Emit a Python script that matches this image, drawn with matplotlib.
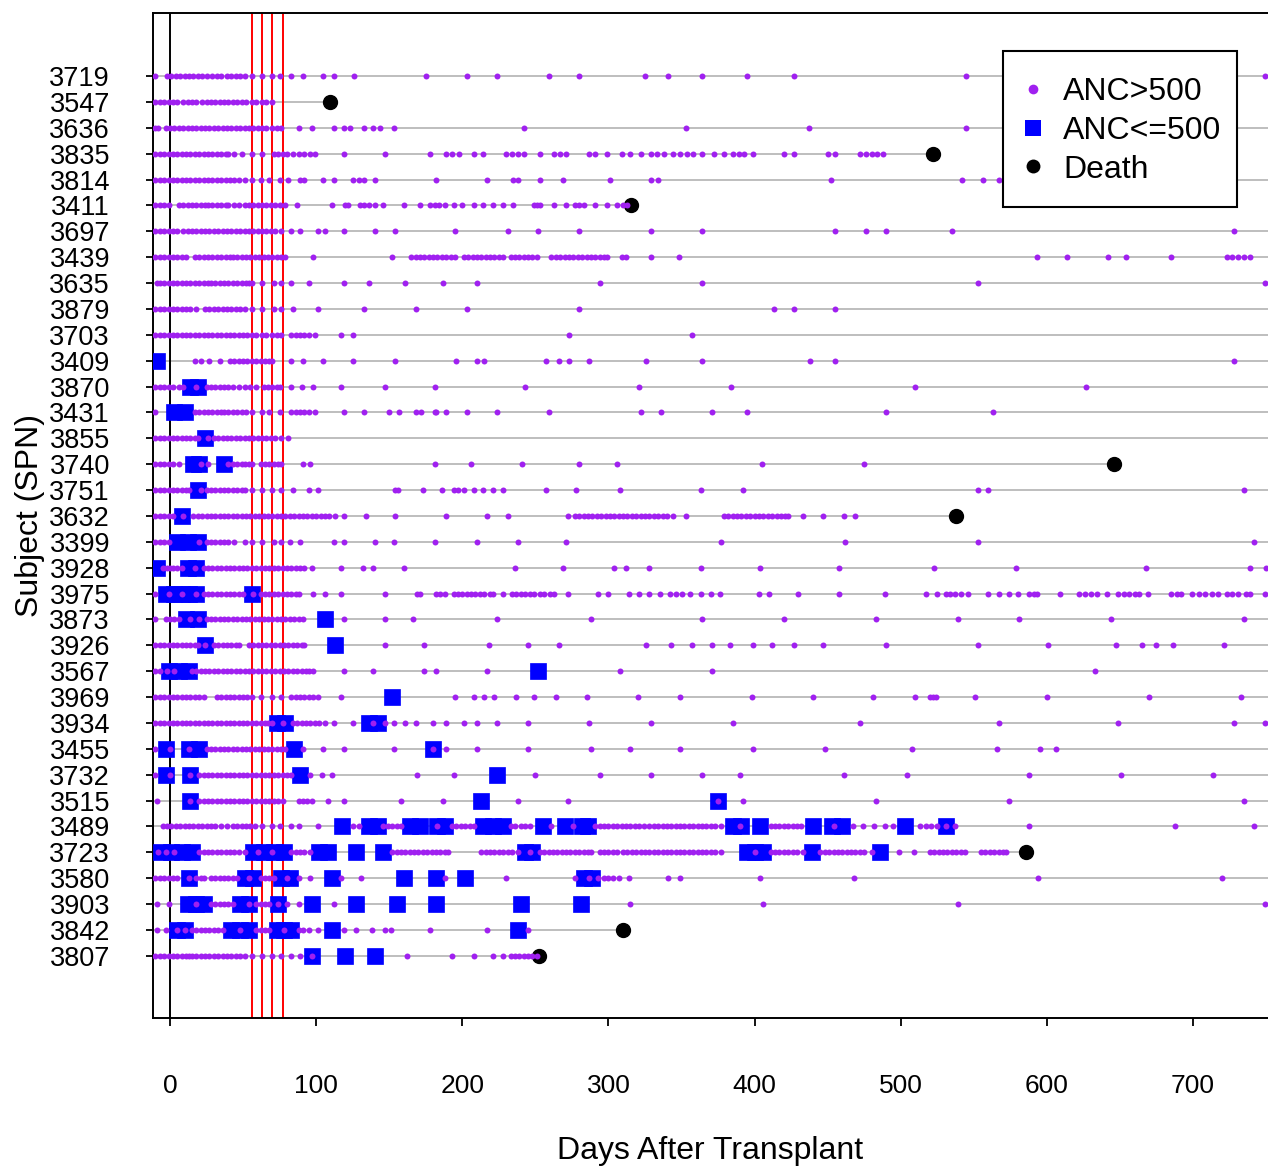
import matplotlib
matplotlib.use("Agg")
import matplotlib.pyplot as plt
from matplotlib.lines import Line2D
from matplotlib.patches import Rectangle

plt.rcParams['font.family'] = ['Liberation Sans', 'DejaVu Sans']

subjects = ["3719", "3547", "3636", "3835", "3814", "3411", "3697", "3439", "3635",
            "3879", "3703", "3409", "3870", "3431", "3855", "3740", "3751", "3632",
            "3399", "3928", "3975", "3873", "3926", "3567", "3969", "3934", "3455",
            "3732", "3515", "3489", "3723", "3580", "3903", "3842", "3807"]

death_day = [None, 109.5, None, 522, None, 315.7, None, None, None,
             None, None, None, None, None, None, 646, None, 537.5,
             None, None, None, None, None, None, None, None, None,
             None, None, None, 586, None, None, 310, 252.5]

red_days = [56, 63, 70, 77]
x_ticks = [0, 100, 200, 300, 400, 500, 600, 700]

# ANC>500 (purple) and ANC<=500 (blue) measurement days per subject
anc_hi_3719 = [-10, -2, 1, 4, 7, 10, 13, 16, 19, 22, 25, 29, 32, 35, 39, 42, 45, 48, 51,
               56, 63, 70, 75, 83, 91, 105, 112, 126, 175, 203, 224, 259, 280, 325, 341,
               364, 395, 427, 545, 749]
anc_lo_3719 = []
anc_hi_3547 = [-10, -7, -4, -1, 2, 5, 9, 12, 15, 18, 22, 25, 28, 31, 34, 37, 40, 43, 46,
               49, 52, 56, 59, 63, 66, 70]
anc_lo_3547 = []
anc_hi_3636 = [-10, -8, -3, 0, 3, 6, 9, 12, 15, 18, 21, 24, 27, 30, 33, 36, 39, 42, 45, 48,
               51, 54, 57, 60, 63, 66, 70, 73, 76, 88, 97, 112, 119, 123, 133, 139, 144,
               153, 242, 353, 437, 545]
anc_lo_3636 = []
anc_hi_3835 = [-10, -7, -4, -1, 2, 5, 8, 11, 14, 17, 20, 23, 26, 29, 32, 35, 38, 40, 44,
               49, 56, 63, 71, 74, 77, 80, 84, 88, 92, 96, 99, 119, 147, 178, 189, 193,
               198, 208, 214, 230, 234, 238, 242, 253, 263, 267, 271, 287, 291, 299, 309,
               315, 322, 329, 333, 338, 344, 349, 354, 358, 364, 372, 379, 385, 389, 393,
               399, 420, 427, 450, 455, 472, 476, 480, 484, 488]
anc_lo_3835 = []
anc_hi_3814 = [-10, -7, -4, -1, 2, 5, 8, 11, 14, 17, 20, 23, 26, 29, 32, 35, 38, 41, 44,
               47, 51, 56, 62, 68, 75, 81, 89, 92, 105, 112, 125, 129, 133, 140, 182, 217,
               235, 238, 253, 269, 301, 329, 334, 452, 542, 556, 567]
anc_lo_3814 = []
anc_hi_3411 = [-10, -7, -4, -1, 6, 9, 12, 15, 18, 21, 24, 26, 29, 32, 35, 38, 40, 44, 47,
               51, 54, 57, 60, 63, 66, 69, 72, 75, 79, 87, 111, 120, 122, 130, 133, 136,
               140, 146, 160, 171, 178, 181, 184, 188, 194, 200, 208, 214, 221, 228, 235,
               249, 251, 253, 263, 271, 277, 280, 283, 291, 299, 306, 310, 313]
anc_lo_3411 = []
anc_hi_3697 = [-10, -7, -4, -1, 2, 5, 9, 12, 15, 18, 21, 24, 27, 30, 33, 36, 39, 42, 45,
               48, 51, 54, 57, 60, 63, 66, 69, 72, 76, 83, 89, 101, 106, 119, 140, 154,
               195, 231, 252, 280, 329, 364, 455, 476, 490, 535, 728]
anc_lo_3697 = []
anc_hi_3439 = [-10, -7, -4, -1, 2, 5, 8, 11, 17, 20, 23, 26, 29, 32, 35, 38, 41, 43, 46,
               49, 52, 55, 58, 61, 64, 67, 70, 73, 76, 79, 98, 152, 165, 168, 171, 174,
               177, 180, 183, 186, 189, 192, 195, 201, 204, 207, 210, 213, 216, 219, 222,
               225, 228, 233, 236, 239, 242, 245, 248, 251, 261, 264, 267, 270, 273, 276,
               279, 282, 285, 288, 291, 294, 297, 299, 309, 312, 329, 348, 593, 614, 642,
               654, 685, 723, 727, 731, 735, 739]
anc_lo_3439 = []
anc_hi_3635 = [-9, -7, -4, -1, 2, 5, 8, 11, 14, 17, 20, 23, 26, 28, 31, 34, 37, 40, 43,
               46, 49, 52, 54, 56, 63, 71, 76, 83, 95, 119, 136, 161, 187, 210, 294, 364,
               553, 749]
anc_lo_3635 = []
anc_hi_3879 = [-10, -7, -4, -1, 2, 5, 8, 11, 14, 18, 24, 27, 30, 33, 36, 39, 42, 45, 48,
               51, 56, 63, 71, 76, 84, 101, 133, 168, 203, 280, 413, 427, 455]
anc_lo_3879 = []
anc_hi_3703 = [-10, -7, -4, -1, 2, 5, 8, 11, 14, 17, 20, 23, 26, 29, 32, 35, 38, 41, 44,
               47, 50, 53, 56, 59, 63, 66, 70, 73, 76, 83, 86, 89, 92, 95, 99, 117, 125,
               273, 357]
anc_lo_3703 = []
anc_hi_3409 = [17, 21, 27, 34, 41, 44, 47, 50, 53, 56, 59, 62, 65, 68, 70, 83, 91, 105,
               125, 154, 196, 210, 215, 257, 266, 273, 287, 326, 364, 438, 455, 728]
anc_lo_3409 = [-9]
anc_hi_3870 = [-10, -7, -4, -1, 2, 6, 9, 18, 25, 28, 31, 34, 37, 40, 43, 47, 51, 55, 59,
               64, 67, 70, 73, 75, 83, 90, 98, 117, 147, 181, 243, 321, 384, 510, 627]
anc_lo_3870 = [14, 19]
anc_hi_3431 = [-10, 17, 20, 23, 26, 29, 32, 35, 37, 40, 43, 46, 49, 52, 56, 63, 68, 75,
               83, 86, 89, 92, 95, 99, 119, 133, 150, 157, 168, 172, 181, 182, 189, 203,
               224, 259, 322, 336, 371, 395, 490, 563]
anc_lo_3431 = [3, 10]
anc_hi_3855 = [-10, -7, -4, -1, 2, 5, 8, 11, 14, 17, 19, 26, 30, 33, 36, 39, 42, 45, 48,
               51, 54, 57, 60, 63, 66, 69, 72, 76, 81]
anc_lo_3855 = [24]
anc_hi_3740 = [-10, -7, -4, -1, 2, 6, 21, 26, 40, 43, 46, 49, 51, 54, 56, 62, 65, 68, 71,
               74, 76, 91, 96, 181, 206, 241, 280, 306, 405, 475]
anc_lo_3740 = [16, 20, 37]
anc_hi_3751 = [-10, -7, -4, -1, 2, 5, 8, 11, 13, 21, 25, 28, 31, 34, 37, 40, 43, 46, 49,
               51, 56, 63, 70, 76, 84, 95, 101, 154, 156, 173, 186, 194, 197, 201, 208,
               214, 221, 228, 257, 278, 308, 363, 392, 553, 560, 735]
anc_lo_3751 = [19]
anc_hi_3632 = [-10, -7, -4, -1, 2, 9, 16, 19, 22, 25, 28, 31, 34, 37, 40, 43, 46, 49, 52,
               55, 58, 61, 64, 67, 70, 73, 76, 79, 82, 85, 88, 91, 94, 97, 100, 103, 106,
               109, 113, 119, 134, 154, 189, 217, 231, 272, 277, 280, 283, 286, 289, 292,
               295, 298, 301, 304, 307, 310, 313, 316, 319, 322, 325, 328, 331, 334, 337,
               340, 344, 353, 379, 382, 385, 388, 391, 394, 397, 400, 403, 406, 409, 412,
               415, 418, 421, 423, 433, 447, 461, 469]
anc_lo_3632 = [8]
anc_hi_3399 = [-10, -7, -4, -1, 20, 25, 28, 31, 34, 37, 40, 44, 51, 56, 63, 71, 76, 82, 89,
               112, 119, 140, 153, 181, 210, 238, 271, 377, 462, 553, 742]
anc_lo_3399 = [5, 12, 19]
anc_hi_3928 = [-5, -2, 0, 2, 5, 8, 17, 23, 26, 29, 32, 35, 38, 41, 44, 47, 50, 53, 56, 59,
               62, 65, 68, 71, 74, 77, 80, 83, 86, 89, 92, 97, 117, 132, 139, 160, 236,
               269, 304, 312, 328, 363, 404, 458, 523, 579, 668, 739, 750]
anc_lo_3928 = [-9, 12, 18]
anc_hi_3975 = [-10, -1, 8, 18, 23, 26, 29, 32, 35, 38, 41, 44, 47, 50, 57, 62, 65, 68, 71,
               74, 77, 80, 83, 86, 88, 98, 106, 117, 147, 169, 171, 182, 185, 188, 194, 197,
               200, 203, 206, 209, 212, 215, 219, 221, 228, 234, 237, 240, 243, 246, 249,
               253, 256, 260, 263, 272, 293, 300, 314, 321, 328, 335, 342, 346, 350, 356,
               363, 370, 376, 403, 410, 430, 458, 489, 517, 525, 531, 534, 537, 541, 546,
               560, 567, 574, 580, 588, 591, 593, 609, 622, 626, 630, 634, 641, 649, 653,
               656, 660, 663, 669, 685, 689, 692, 699, 704, 708, 713, 717, 723, 727, 731,
               736, 739, 749]
anc_lo_3975 = [-3, 3, 8, 13, 18, 56]
anc_hi_3873 = [-10, -3, 0, 3, 6, 14, 20, 25, 28, 31, 34, 37, 40, 43, 46, 49, 52, 55, 58,
               61, 64, 67, 70, 73, 76, 79, 82, 85, 88, 91, 119, 147, 166, 224, 288, 364,
               420, 483, 539, 581, 644, 735]
anc_lo_3873 = [11, 19, 106]
anc_hi_3926 = [-10, -7, -4, -1, 2, 5, 8, 11, 14, 17, 19, 24, 30, 33, 36, 39, 42, 45, 47,
               54, 57, 60, 63, 66, 69, 72, 75, 78, 81, 84, 87, 90, 92, 147, 174, 218, 245,
               266, 326, 343, 357, 371, 383, 399, 412, 427, 447, 490, 553, 601, 647, 665,
               675, 686, 721]
anc_lo_3926 = [24, 113]
anc_hi_3567 = [-10, -7, -2, 3, 15, 18, 21, 24, 27, 30, 33, 36, 39, 42, 45, 48, 51, 54, 57,
               60, 63, 66, 69, 72, 75, 78, 81, 84, 87, 90, 93, 95, 98, 119, 139, 174, 182,
               217, 308, 371, 633]
anc_lo_3567 = [-1, 6, 13, 252]
anc_hi_3969 = [-10, -7, -4, -1, 2, 5, 8, 11, 14, 17, 20, 23, 32, 35, 38, 41, 44, 47, 50,
               53, 56, 62, 70, 76, 83, 86, 89, 92, 95, 98, 101, 117, 195, 208, 215, 222,
               237, 249, 264, 285, 320, 349, 398, 440, 481, 510, 520, 522, 524, 551, 600,
               670, 733]
anc_lo_3969 = [152]
anc_hi_3934 = [-10, -7, -4, -1, 2, 5, 8, 11, 14, 17, 20, 23, 26, 29, 32, 35, 38, 41, 44,
               47, 50, 53, 56, 59, 62, 65, 67, 70, 77, 84, 87, 90, 93, 96, 99, 102, 106,
               112, 125, 139, 147, 153, 161, 168, 180, 189, 201, 210, 224, 245, 287, 329,
               385, 472, 567, 649, 728, 749]
anc_lo_3934 = [73, 79, 136, 142]
anc_hi_3455 = [-10, 0, 13, 25, 28, 31, 34, 37, 40, 43, 46, 49, 52, 55, 58, 61, 64, 67, 70,
               73, 76, 79, 91, 105, 119, 153, 180, 189, 210, 245, 288, 315, 349, 399, 448,
               508, 566, 595, 606]
anc_lo_3455 = [-3, 13, 20, 85, 180]
anc_hi_3732 = [-10, 0, 14, 20, 23, 26, 29, 32, 35, 38, 41, 44, 47, 50, 53, 56, 59, 62, 65,
               68, 71, 74, 77, 80, 83, 96, 104, 111, 169, 194, 250, 294, 329, 364, 390,
               461, 504, 588, 651, 714]
anc_lo_3732 = [-3, 14, 89, 224]
anc_hi_3515 = [-9, 14, 20, 23, 26, 29, 32, 35, 38, 41, 44, 47, 50, 53, 56, 59, 62, 65, 68,
               71, 74, 77, 88, 91, 94, 97, 108, 119, 158, 187, 238, 272, 375, 392, 483,
               574, 735]
anc_lo_3515 = [14, 213, 375]
anc_hi_3489 = [-5, -2, 1, 4, 7, 10, 13, 16, 19, 22, 25, 28, 31, 35, 39, 43, 46, 49, 52, 55,
               58, 63, 70, 75, 83, 88, 101, 125, 129, 146, 149, 152, 155, 158, 183, 193,
               196, 199, 202, 205, 208, 233, 236, 240, 243, 246, 261, 276, 291, 294, 297,
               300, 303, 306, 309, 312, 315, 318, 321, 324, 328, 331, 334, 337, 340, 343,
               346, 349, 352, 355, 358, 361, 364, 367, 370, 373, 377, 390, 411, 414, 417,
               420, 423, 426, 429, 432, 454, 467, 474, 482, 489, 495, 513, 517, 521, 525,
               531, 537, 588, 688, 742]
anc_lo_3489 = [118, 136, 142, 164, 171, 183, 188, 214, 221, 228, 255, 270, 282, 286, 385,
               391, 404, 440, 453, 460, 503, 531]
anc_hi_3723 = [-8, -3, 3, 20, 23, 26, 29, 32, 35, 38, 41, 44, 47, 51, 60, 70, 83, 86, 89,
               92, 96, 152, 155, 158, 161, 164, 167, 170, 173, 176, 179, 182, 185, 188,
               190, 213, 216, 219, 222, 225, 228, 231, 234, 238, 246, 253, 256, 259, 262,
               265, 268, 271, 274, 277, 280, 283, 286, 288, 294, 297, 300, 303, 306, 310,
               313, 316, 319, 322, 325, 328, 331, 334, 337, 340, 343, 346, 349, 352, 355,
               358, 361, 364, 367, 370, 373, 377, 400, 411, 414, 417, 420, 423, 426, 429,
               433, 445, 448, 451, 454, 457, 460, 463, 466, 469, 472, 475, 480, 499, 509,
               520, 523, 526, 529, 532, 535, 538, 541, 544, 555, 558, 561, 564, 567, 570,
               572]
anc_lo_3723 = [-6, 1, 8, 15, 57, 64, 71, 78, 102, 108, 127, 146, 243, 248, 395, 400, 406,
               439, 486]
anc_hi_3580 = [-10, -7, -4, -1, 2, 5, 13, 18, 21, 23, 28, 31, 34, 37, 40, 43, 46, 54, 62,
               65, 68, 71, 80, 88, 96, 117, 131, 188, 230, 277, 287, 293, 297, 300, 303,
               307, 314, 341, 349, 404, 468, 594, 720]
anc_lo_3580 = [13, 51, 57, 76, 82, 111, 160, 182, 202, 283, 289]
anc_hi_3903 = [-9, -1, 18, 28, 31, 34, 37, 40, 43, 54, 59, 62, 65, 68, 74, 80, 88, 112,
               315, 406, 539, 749]
anc_lo_3903 = [12, 18, 23, 48, 54, 74, 97, 127, 155, 182, 240, 281]
anc_hi_3842 = [-9, -3, 5, 10, 15, 18, 21, 24, 27, 30, 33, 36, 48, 59, 62, 65, 68, 78, 88,
               91, 95, 101, 119, 127, 138, 147, 151, 178, 217, 245]
anc_lo_3842 = [5, 10, 42, 48, 54, 73, 78, 83, 111, 238]
anc_hi_3807 = [-10, -7, -4, -1, 2, 5, 8, 11, 13, 15, 18, 21, 24, 27, 30, 33, 36, 39, 42,
               45, 48, 51, 56, 63, 70, 76, 83, 89, 97, 162, 193, 208, 221, 228, 233, 236,
               239, 242, 245, 248, 251]
anc_lo_3807 = [97, 120, 140]

anc_hi = [anc_hi_3719, anc_hi_3547, anc_hi_3636, anc_hi_3835, anc_hi_3814, anc_hi_3411,
          anc_hi_3697, anc_hi_3439, anc_hi_3635, anc_hi_3879, anc_hi_3703, anc_hi_3409,
          anc_hi_3870, anc_hi_3431, anc_hi_3855, anc_hi_3740, anc_hi_3751, anc_hi_3632,
          anc_hi_3399, anc_hi_3928, anc_hi_3975, anc_hi_3873, anc_hi_3926, anc_hi_3567,
          anc_hi_3969, anc_hi_3934, anc_hi_3455, anc_hi_3732, anc_hi_3515, anc_hi_3489,
          anc_hi_3723, anc_hi_3580, anc_hi_3903, anc_hi_3842, anc_hi_3807]
anc_lo = [anc_lo_3719, anc_lo_3547, anc_lo_3636, anc_lo_3835, anc_lo_3814, anc_lo_3411,
          anc_lo_3697, anc_lo_3439, anc_lo_3635, anc_lo_3879, anc_lo_3703, anc_lo_3409,
          anc_lo_3870, anc_lo_3431, anc_lo_3855, anc_lo_3740, anc_lo_3751, anc_lo_3632,
          anc_lo_3399, anc_lo_3928, anc_lo_3975, anc_lo_3873, anc_lo_3926, anc_lo_3567,
          anc_lo_3969, anc_lo_3934, anc_lo_3455, anc_lo_3732, anc_lo_3515, anc_lo_3489,
          anc_lo_3723, anc_lo_3580, anc_lo_3903, anc_lo_3842, anc_lo_3807]

PURPLE = '#A020F0'
BLUE = '#0000FF'

fig = plt.figure(figsize=(12.68, 11.67), dpi=100)
ax = fig.add_axes([153 / 1268, (1167 - 1018) / 1167, (1268 - 153) / 1268, (1018 - 13) / 1167])
x_left, x_right = -11.63, 751.3
n = len(subjects)

for i in range(n):
    end = death_day[i] if death_day[i] is not None else x_right + 20
    ax.plot([x_left, end], [i, i], color='#BEBEBE', lw=1.4, zorder=1, solid_capstyle='butt')
    lo = anc_lo[i]
    if lo:
        ax.plot(lo, [i] * len(lo), ls='none', marker='s', ms=12.2, color=BLUE,
                mec=BLUE, mew=0.5, zorder=3)
    hi = anc_hi[i]
    ax.plot(hi, [i] * len(hi), ls='none', marker='o', ms=4.3, color=PURPLE,
            mew=0, zorder=5)
    if death_day[i] is not None:
        ax.plot([death_day[i]], [i], ls='none', marker='o', ms=10, color='black',
                zorder=4)

ax.axvline(0, color='black', lw=1.4, zorder=2)
for d in red_days:
    ax.axvline(d, color='red', lw=1.4, zorder=2)

ax.set_xlim(x_left, x_right)
ax.set_ylim(n - 1 + 2.40, -2.434)
ax.set_yticks(range(n))
ax.set_yticklabels(subjects)
ax.set_xticks(x_ticks)
ax.set_xticklabels([str(t) for t in x_ticks])
ax.tick_params(axis='y', length=5, width=1.3, pad=26, labelsize=19.5, direction='out')
ax.tick_params(axis='x', length=6, width=1.3, pad=34, labelsize=19, direction='out')
for s in ['left', 'top', 'bottom']:
    ax.spines[s].set_linewidth(1.4)
ax.spines['right'].set_visible(False)

ax.set_xlabel('Days After Transplant', fontsize=23, labelpad=28)
ax.set_ylabel('Subject (SPN)', fontsize=23, labelpad=3)

# legend frame drawn as a rectangle in axes coordinates
frame = Rectangle((0.7623, 0.8070), 0.2099, 0.1552, transform=ax.transAxes,
                  facecolor='white', edgecolor='black', lw=1.5, zorder=6, clip_on=False)
ax.add_patch(frame)

handles = [
    Line2D([], [], ls='none', marker='o', ms=7, color=PURPLE, mew=0),
    Line2D([], [], ls='none', marker='s', ms=11, color=BLUE, mew=0),
    Line2D([], [], ls='none', marker='o', ms=10, color='black', mew=0),
]
leg = ax.legend(handles, ['ANC>500', 'ANC<=500', 'Death'], loc='upper left',
                bbox_to_anchor=(0.7749, 0.936), fontsize=23, frameon=False,
                borderpad=0, labelspacing=0.27, handlelength=1.0, handletextpad=0.44,
                borderaxespad=0)
leg.set_zorder(7)

fig.savefig('out.png', dpi=100)
